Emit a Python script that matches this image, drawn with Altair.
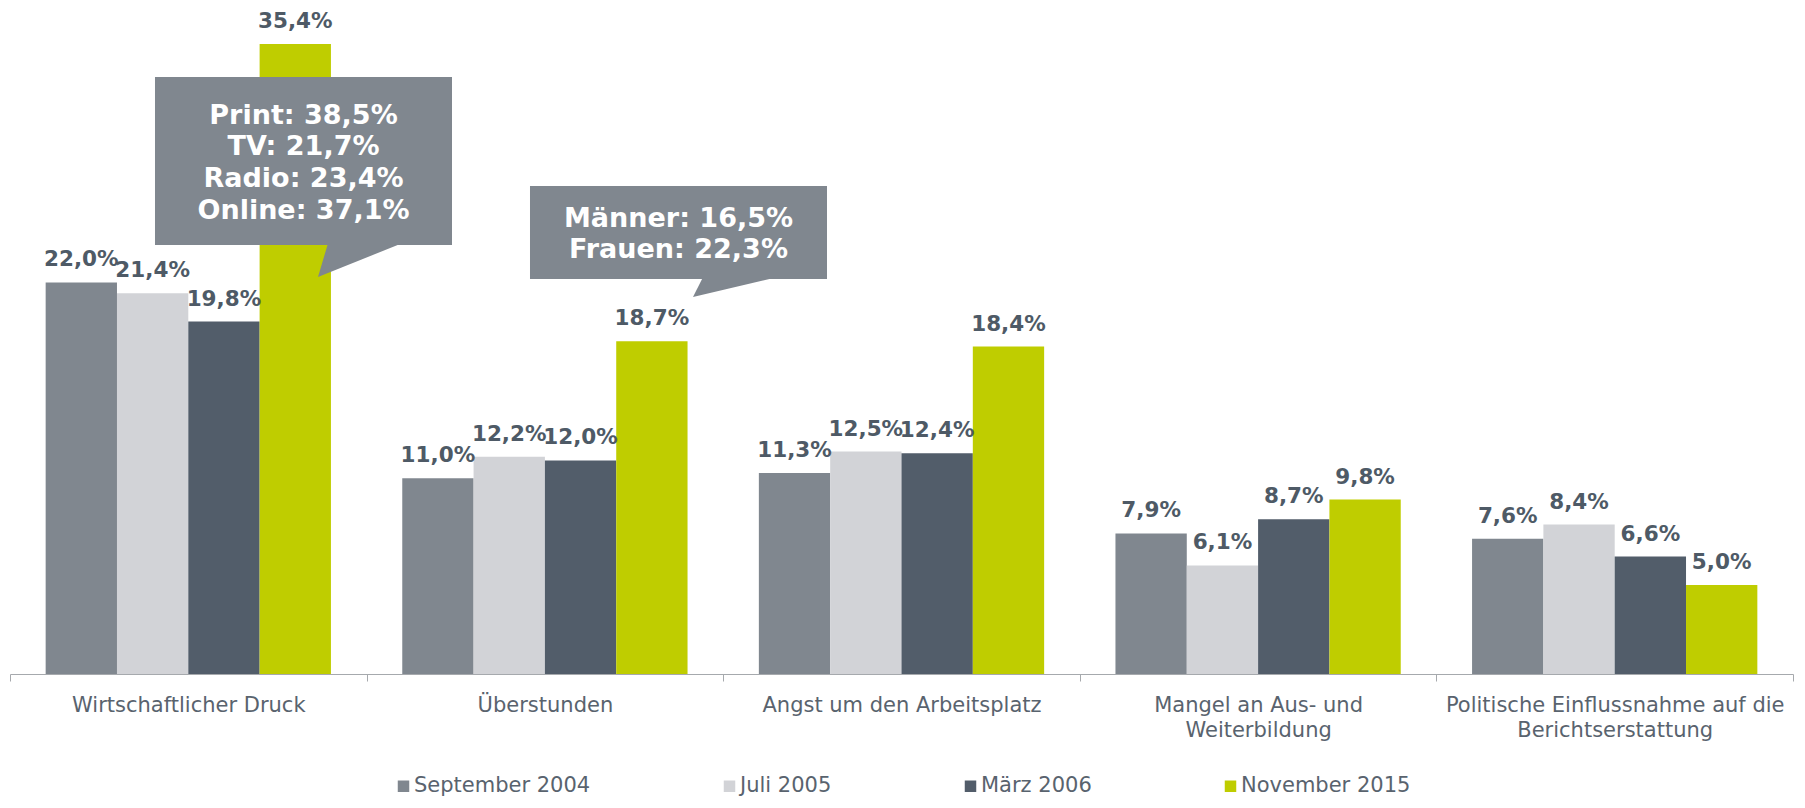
import json
import altair as alt
import pandas as pd

# ---------------- data ----------------
categories = [
    "Wirtschaftlicher Druck",
    "Überstunden",
    "Angst um den Arbeitsplatz",
    "Mangel an Aus- und Weiterbildung",
    "Politische Einflussnahme auf die Berichtserstattung",
]
category_lines = [
    ["Wirtschaftlicher Druck"],
    ["Überstunden"],
    ["Angst um den Arbeitsplatz"],
    ["Mangel an Aus- und", "Weiterbildung"],
    ["Politische Einflussnahme auf die", "Berichtserstattung"],
]
series = ["September 2004", "Juli 2005", "März 2006", "November 2015"]
colors = ["#80878f", "#d2d3d7", "#525d6a", "#bfcd00"]

sep2004 = [22.0, 11.0, 11.3, 7.9, 7.6]
jul2005 = [21.4, 12.2, 12.5, 6.1, 8.4]
mar2006 = [19.8, 12.0, 12.4, 8.7, 6.6]
nov2015 = [35.4, 18.7, 18.4, 9.8, 5.0]

# callout annotations (x in category units 0..5, y in percent)
callout_lines = [["Print: 38,5%", "TV: 21,7%", "Radio: 23,4%", "Online: 37,1%"],
                 ["Männer: 16,5%", "Frauen: 22,3%"]]
callout_x0 = [0.4066, 1.4582]
callout_x1 = [1.2395, 2.2911]
callout_y0 = [24.10, 22.19]
callout_y1 = [33.54, 27.42]
pointer_base_x0 = [0.8918, 1.9433]
pointer_base_x1 = [1.0993, 2.1509]
pointer_tip_x = [0.8637, 1.9153]
pointer_tip_y = [22.31, 21.18]

# ---------------- tables ----------------
Y_MAX = 37
PLOT_H = 658.5
PX_PER_UNIT = PLOT_H / Y_MAX
LINE_H = 31.7

rows = []
for s, vals in zip(series, [sep2004, jul2005, mar2006, nov2015]):
    for c, v in zip(categories, vals):
        rows.append({"Kategorie": c, "Zeitpunkt": s, "Wert": v})
df = pd.DataFrame(rows)

boxes = pd.DataFrame({"x0": callout_x0, "x1": callout_x1, "y0": callout_y0, "y1": callout_y1})

line_rows = []
for i, lines in enumerate(callout_lines):
    cx = (callout_x0[i] + callout_x1[i]) / 2
    cy = (callout_y0[i] + callout_y1[i]) / 2
    n = len(lines)
    for j, t in enumerate(lines):
        line_rows.append({"cx": cx, "cy": cy + ((n - 1) / 2 - j) * LINE_H / PX_PER_UNIT, "txt": t})
lines_df = pd.DataFrame(line_rows)

ptr_rows = []
for i in range(len(callout_lines)):
    ptr_rows.append({"id": i, "y": callout_y0[i] + 0.1, "xa": pointer_base_x0[i], "xb": pointer_base_x1[i]})
    ptr_rows.append({"id": i, "y": pointer_tip_y[i], "xa": pointer_tip_x[i], "xb": pointer_tip_x[i]})
ptrs = pd.DataFrame(ptr_rows)

# ---------------- styling ----------------
FONT = "DejaVu Sans"
TXT = "#59636e"
LBL = "#4e5a66"
CALLOUT = "#80878f"

label_expr = "datum.label"
for c, lines in zip(categories, category_lines):
    if len(lines) > 1:
        label_expr = f"datum.label == {json.dumps(c)} ? {json.dumps(lines)} : " + label_expr

x_scale = alt.Scale(paddingInner=0, paddingOuter=0)
x_enc = alt.X("Kategorie:N", sort=categories, title=None, scale=x_scale,
              axis=alt.Axis(labelAngle=0, labelFont=FONT, labelFontSize=21, labelColor=TXT,
                            labelLineHeight=25, labelPadding=13, tickBand="extent",
                            tickSize=7, tickColor="#a6a9ad", domainColor="#a6a9ad",
                            labelExpr=label_expr, labelLimit=0))
xo_enc = alt.XOffset("Zeitpunkt:N", sort=series, scale=alt.Scale(paddingInner=0, paddingOuter=0.5))
yscale = alt.Scale(domain=[0, Y_MAX], nice=False)
y_enc = alt.Y("Wert:Q", scale=yscale, axis=None)

bars = alt.Chart(df).mark_bar(strokeWidth=0).encode(
    x=x_enc, xOffset=xo_enc, y=y_enc,
    color=alt.Color("Zeitpunkt:N", sort=series,
                    scale=alt.Scale(domain=series, range=colors),
                    legend=alt.Legend(title=None, orient="none", direction="horizontal",
                                      legendX=383, legendY=760,
                                      symbolType="square", symbolSize=132, symbolStrokeWidth=0,
                                      labelFont=FONT, labelFontSize=21, labelColor=TXT,
                                      labelOffset=0, columnPadding=128, labelLimit=0)),
)

labels = alt.Chart(df).transform_calculate(
    lab="replace(format(datum.Wert, '.1f'), '.', ',') + '%'"
).mark_text(dy=-16, baseline="alphabetic", align="center", font=FONT, fontSize=21.5,
            fontWeight="bold", color=LBL).encode(
    x=alt.X("Kategorie:N", sort=categories, scale=x_scale),
    xOffset=xo_enc, y=y_enc, text="lab:N",
)

xq = alt.Scale(domain=[0, 5], nice=False, zero=False)

box_layer = alt.Chart(boxes).mark_rect(color=CALLOUT).encode(
    x=alt.X("x0:Q", scale=xq, axis=None), x2="x1:Q",
    y=alt.Y("y0:Q", scale=yscale, axis=None), y2="y1:Q",
)
ptr_layer = alt.Chart(ptrs).mark_area(orient="horizontal", color=CALLOUT).encode(
    x=alt.X("xa:Q", scale=xq, axis=None), x2="xb:Q",
    y=alt.Y("y:Q", scale=yscale, axis=None),
    detail="id:N",
)
txt_layer = alt.Chart(lines_df).mark_text(font=FONT, fontSize=27, fontWeight="bold", color="white",
                                          align="center", baseline="middle", dy=2).encode(
    x=alt.X("cx:Q", scale=xq, axis=None),
    y=alt.Y("cy:Q", scale=yscale, axis=None),
    text="txt:N",
)

chart = alt.layer(
    alt.layer(bars, labels),
    alt.layer(box_layer, ptr_layer, txt_layer),
).resolve_scale(x="independent").properties(
    width=1783, height=PLOT_H,
    autosize=alt.AutoSizeParams(type="none"),
    padding={"left": 2, "top": 7.5, "right": 4, "bottom": 126},
).configure_view(stroke=None)

chart.save("out.html", embed_options={"renderer": "svg", "actions": False})
